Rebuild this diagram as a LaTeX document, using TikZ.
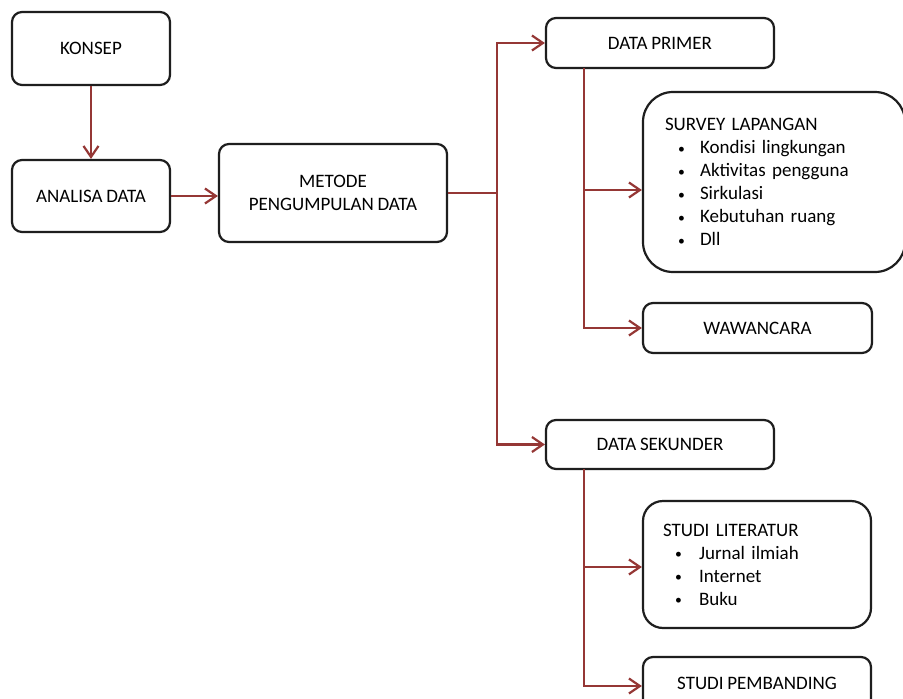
\documentclass[tikz,border=0pt]{standalone}
\usepackage{fontspec}
\setmainfont{Carlito}[WordSpace={0.85,0,0}]
\usetikzlibrary{arrows.meta,calc}
\definecolor{linkred}{HTML}{953735}
\definecolor{boxline}{HTML}{1E1E1E}
% small list bullet set in a fixed-width slot
\newcommand{\itemdot}[1]{\makebox[#1][l]{\hspace*{1pt}\raisebox{0.5pt}{\scalebox{0.72}{\textbullet}}}}
\begin{document}
\begin{tikzpicture}[x=1pt,y={(0pt,-1pt)},
  box/.style={draw=boxline,line width=2.2pt,rounded corners=10pt,inner sep=0pt,
    font=\fontsize{19}{23}\selectfont,align=center},
  listbox/.style={box,align=left},
  conn/.style={draw=linkred,line width=2.2pt,
    -{Straight Barb[length=11pt,width=15pt,line width=2.2pt]}},
  bus/.style={draw=linkred,line width=2.2pt}]
\useasboundingbox (0,0) rectangle (903,699);
\fill[white] (0,0) rectangle (903,699);

% left column
\node[box,minimum width=158pt,minimum height=73pt] (konsep) at (91,48.5) {KONSEP};
\node[box,minimum width=158pt,minimum height=72pt] (analisa) at (91,196) {ANALISA DATA};
\node[box,minimum width=228pt,minimum height=98pt] (metode) at (333,193) {METODE\\PENGUMPULAN DATA};

% data branches
\node[box,minimum width=228pt,minimum height=50pt] (primer) at (660,43) {DATA PRIMER};
\node[box,minimum width=228pt,minimum height=49pt] (sekunder) at (660,444.5) {DATA SEKUNDER};

% primary data
\node[listbox,rounded corners=30pt,inner xsep=22pt,text width=218pt,minimum height=180pt] (survey) at (774,182)
  {SURVEY LAPANGAN\\
   \hspace*{12pt}\itemdot{23pt}Kondisi lingkungan\\
   \hspace*{12pt}\itemdot{23pt}Aktivitas pengguna\\
   \hspace*{12pt}\itemdot{23pt}Sirkulasi\\
   \hspace*{12pt}\itemdot{23pt}Kebutuhan ruang\\
   \hspace*{12pt}\itemdot{23pt}Dll};
\node[box,minimum width=229pt,minimum height=50pt] (wawancara) at (757.5,328) {WAWANCARA};

% secondary data
\node[listbox,rounded corners=20pt,inner xsep=20pt,text width=188pt,minimum height=127pt] (literatur) at (757,564.5)
  {STUDI LITERATUR\\
   \hspace*{11pt}\itemdot{25pt}Jurnal ilmiah\\
   \hspace*{11pt}\itemdot{25pt}Internet\\
   \hspace*{11pt}\itemdot{25pt}Buku};
\node[box,minimum width=228pt,minimum height=52pt] (pembanding) at (757,683) {STUDI PEMBANDING};

% connectors
\draw[conn] (konsep) -- (analisa);
\draw[conn] (analisa.east) -- (analisa.east -| metode.west);

\coordinate (split) at (497,193);
\draw[bus] (metode.east) -- (split);
\draw[conn] (split) |- (primer.west);
\draw[conn] (split) |- (sekunder.west);

\coordinate (pbus) at (584,68);
\path (survey.west) ++(0,8) coordinate (svin);
\draw[conn] (pbus) |- (svin);
\draw[conn] (pbus) |- (wawancara.west);

\coordinate (sbus) at (584,469);
\path (literatur.west) ++(0,2.5) coordinate (ltin);
\path (pembanding.west) ++(0,3) coordinate (pbin);
\draw[conn] (sbus) |- (ltin);
\draw[conn] (sbus) |- (pbin);
\end{tikzpicture}
\end{document}
